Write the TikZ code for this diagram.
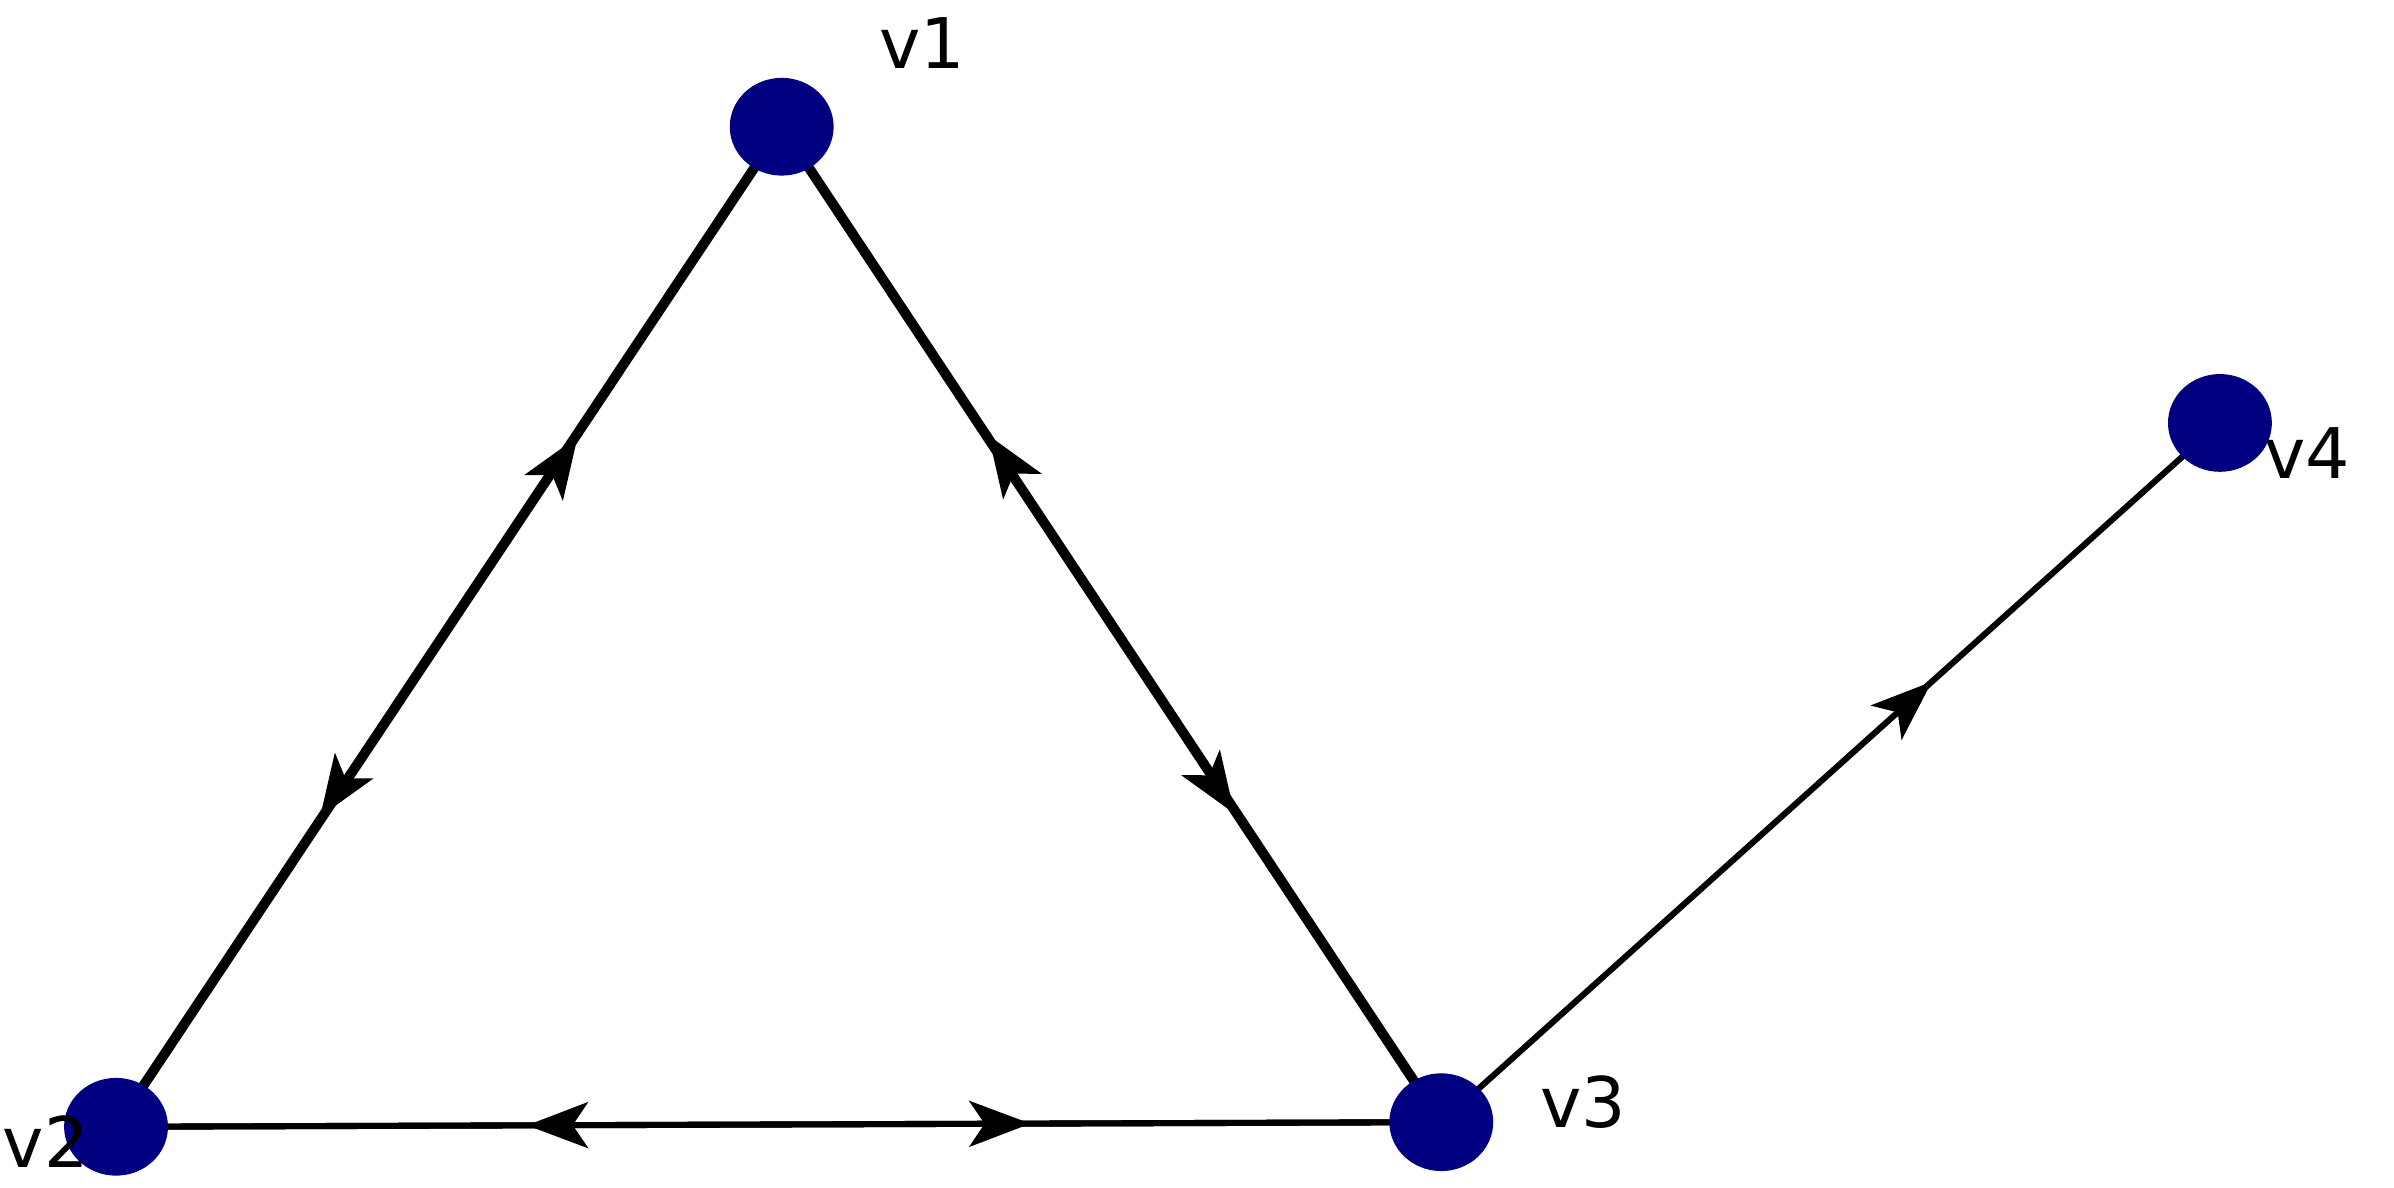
\documentclass[tikz,border=0pt]{standalone}
\usepackage{fontspec}
\setmainfont{DejaVu Sans}
\usetikzlibrary{decorations.markings,arrows.meta,shapes.geometric,backgrounds}
\begin{document}
\begin{tikzpicture}[x=0.01cm,y=-0.01cm,
  vert/.style={ellipse,fill={rgb,255:red,0;green,0;blue,128},minimum width=0.68cm,minimum height=0.64cm,inner sep=0pt},
  lbl/.style={font=\fontsize{13}{14}\selectfont},
  edge/.style={line width=0.04cm,postaction={decorate},decoration={markings,mark=at position #1 with {\arrow{Stealth[length=0.4cm,width=0.3cm,inset=0.1cm]}}}},
  edge/.default=0.69]
\useasboundingbox (0,0) rectangle (1568,778);
\node[vert] (v1) at (512,83) {};
\node[vert] (v2) at (76,738) {};
\node[vert] (v3) at (944,735) {};
\node[vert] (v4) at (1454,277) {};
\node[lbl] (l1) at (604,28) {v1};
\node[lbl] (l2) at (30,748) {v2};
\node[lbl] (l3) at (1037,722) {v3};
\node[lbl] (l4) at (1511,297) {v4};
\begin{pgfonlayer}{background}
\draw[edge] ([xshift=-0.015cm]v1.center) -- ([xshift=-0.015cm]v2.center);
\draw[edge] ([xshift=0.015cm]v2.center) -- ([xshift=0.015cm]v1.center);
\draw[edge] ([xshift=-0.015cm]v1.center) -- ([xshift=-0.015cm]v3.center);
\draw[edge] ([xshift=0.015cm]v3.center) -- ([xshift=0.015cm]v1.center);
\draw[edge] (v2.center) -- (v3.center);
\draw[edge] (v3.center) -- (v2.center);
\draw[edge=0.63] (v3.center) -- (v4.center);
\end{pgfonlayer}
\end{tikzpicture}
\end{document}
